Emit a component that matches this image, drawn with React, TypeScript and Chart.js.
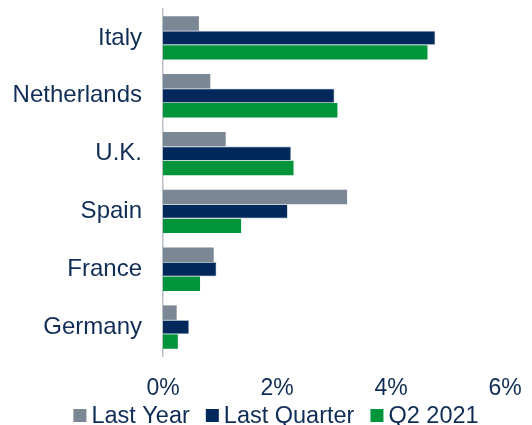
import React, { useEffect, useRef } from "react";
import { Chart, registerables } from "chart.js";

Chart.register(...registerables);

const categories = ["Italy", "Netherlands", "U.K.", "Spain", "France", "Germany"];
const lastYear = [0.63, 0.83, 1.1, 3.23, 0.89, 0.24];
const lastQuarter = [4.78, 3.01, 2.25, 2.19, 0.94, 0.46];
const q22021 = [4.64, 3.06, 2.29, 1.37, 0.65, 0.26];
const seriesNames = ["Last Year", "Last Quarter", "Q2 2021"];
const seriesColors = ["#7b8794", "#00285a", "#00953a"];
const xTicks = [0, 2, 4, 6];

const TEXT = "#0f2d55";
const FONT = "'Liberation Sans', Arial, sans-serif";

const bottomLegend = {
  id: "bottomLegend",
  afterDraw(chart: any) {
    const ctx = chart.ctx;
    const box = 13;
    const gap = 5;
    const spacing = 16;
    const cy = 415.5;
    ctx.save();
    ctx.font = `23.5px ${FONT}`;
    ctx.textBaseline = "middle";
    ctx.textAlign = "left";
    const items = chart.data.datasets.map((ds: any) => ({
      text: ds.label,
      color: ds.backgroundColor,
      w: ctx.measureText(ds.label).width,
    }));
    const total =
      items.reduce((s: number, it: any) => s + box + gap + it.w, 0) + spacing * (items.length - 1);
    let x = 276 - total / 2;
    items.forEach((it: any) => {
      ctx.fillStyle = it.color;
      ctx.fillRect(x, cy - box / 2, box, box);
      ctx.fillStyle = TEXT;
      ctx.fillText(it.text, x + box + gap, cy + 1);
      x += box + gap + it.w + spacing;
    });
    ctx.restore();
  },
};

export default function App() {
  const ref = useRef<HTMLCanvasElement | null>(null);
  useEffect(() => {
    document.body.style.margin = "0";
    if (!ref.current) return;
    const chart = new Chart(ref.current, {
      type: "bar",
      data: {
        labels: categories,
        datasets: [
          { label: seriesNames[0], data: lastYear, backgroundColor: seriesColors[0] },
          {
            label: seriesNames[1],
            data: lastQuarter,
            backgroundColor: seriesColors[1],
            borderColor: "#c9d1db",
            borderWidth: 0.8,
          },
          { label: seriesNames[2], data: q22021, backgroundColor: seriesColors[2] },
        ],
      },
      options: {
        indexAxis: "y",
        animation: false,
        responsive: false,
        maintainAspectRatio: false,
        layout: { padding: { left: 0, right: 0, top: 9, bottom: 0 } },
        datasets: { bar: { barPercentage: 1, categoryPercentage: 0.75 } },
        scales: {
          x: {
            min: 0,
            max: 6,
            afterBuildTicks: (axis: any) => {
              axis.ticks = xTicks.map((v) => ({ value: v }));
            },
            afterFit: (axis: any) => {
              axis.paddingLeft = 0;
              axis.paddingRight = 27;
              axis.height = 69;
            },
            grid: { display: false, drawTicks: false },
            border: { display: false },
            ticks: {
              color: TEXT,
              font: { family: FONT, size: 23 },
              padding: 19,
              maxRotation: 0,
              callback: (v: any) => v + "%",
            },
          },
          y: {
            afterFit: (axis: any) => {
              axis.width = 163;
              axis.paddingTop = 0;
              axis.paddingBottom = 0;
            },
            grid: { display: false, drawTicks: false },
            border: { display: true, color: "#b8bec6", width: 1.5 },
            ticks: {
              color: TEXT,
              font: { family: FONT, size: 24 },
              padding: 21,
            },
          },
        },
        plugins: {
          legend: { display: false },
          tooltip: { enabled: false },
        },
      },
      plugins: [bottomLegend],
    });
    return () => chart.destroy();
  }, []);
  return (
    <div style={{ width: 532, height: 425 }}>
      <canvas ref={ref} width={532} height={425} style={{ display: "block" }} />
    </div>
  );
}
